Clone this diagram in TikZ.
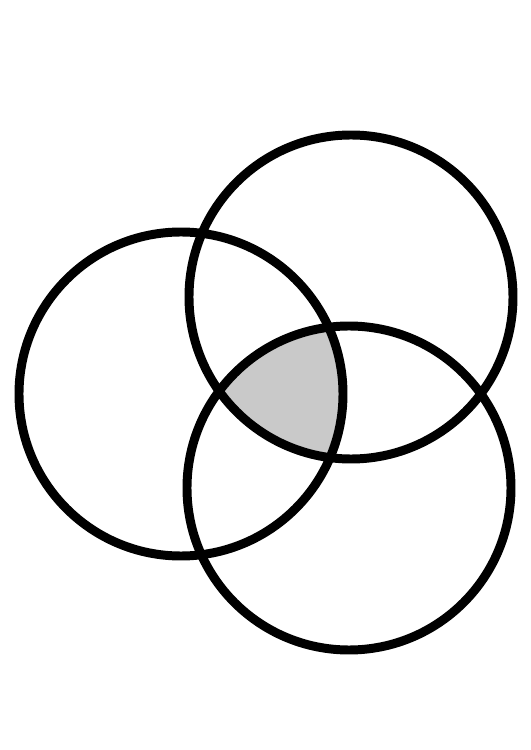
\documentclass[tikz,border=0pt]{standalone}
\usepackage{tikz}

\begin{document}
\begin{tikzpicture}
    \useasboundingbox (0,0) rectangle (10.62,15);

    % Centros
    \coordinate (izq) at (3.62, 7.12);
    \coordinate (sup) at (7.02, 9.06);
    \coordinate (inf) at (6.98, 5.24);

    % Region comun sombreada
    \begin{scope}
        \clip (izq) circle (3.24);
        \clip (sup) circle (3.24);
        \fill[black!21] (inf) circle (3.24);
    \end{scope}

    % Circunferencias
    \draw[black, line width=5.1pt] (izq) circle (3.24);
    \draw[black, line width=5.1pt] (sup) circle (3.24);
    \draw[black, line width=5.1pt] (inf) circle (3.24);
\end{tikzpicture}
\end{document}
